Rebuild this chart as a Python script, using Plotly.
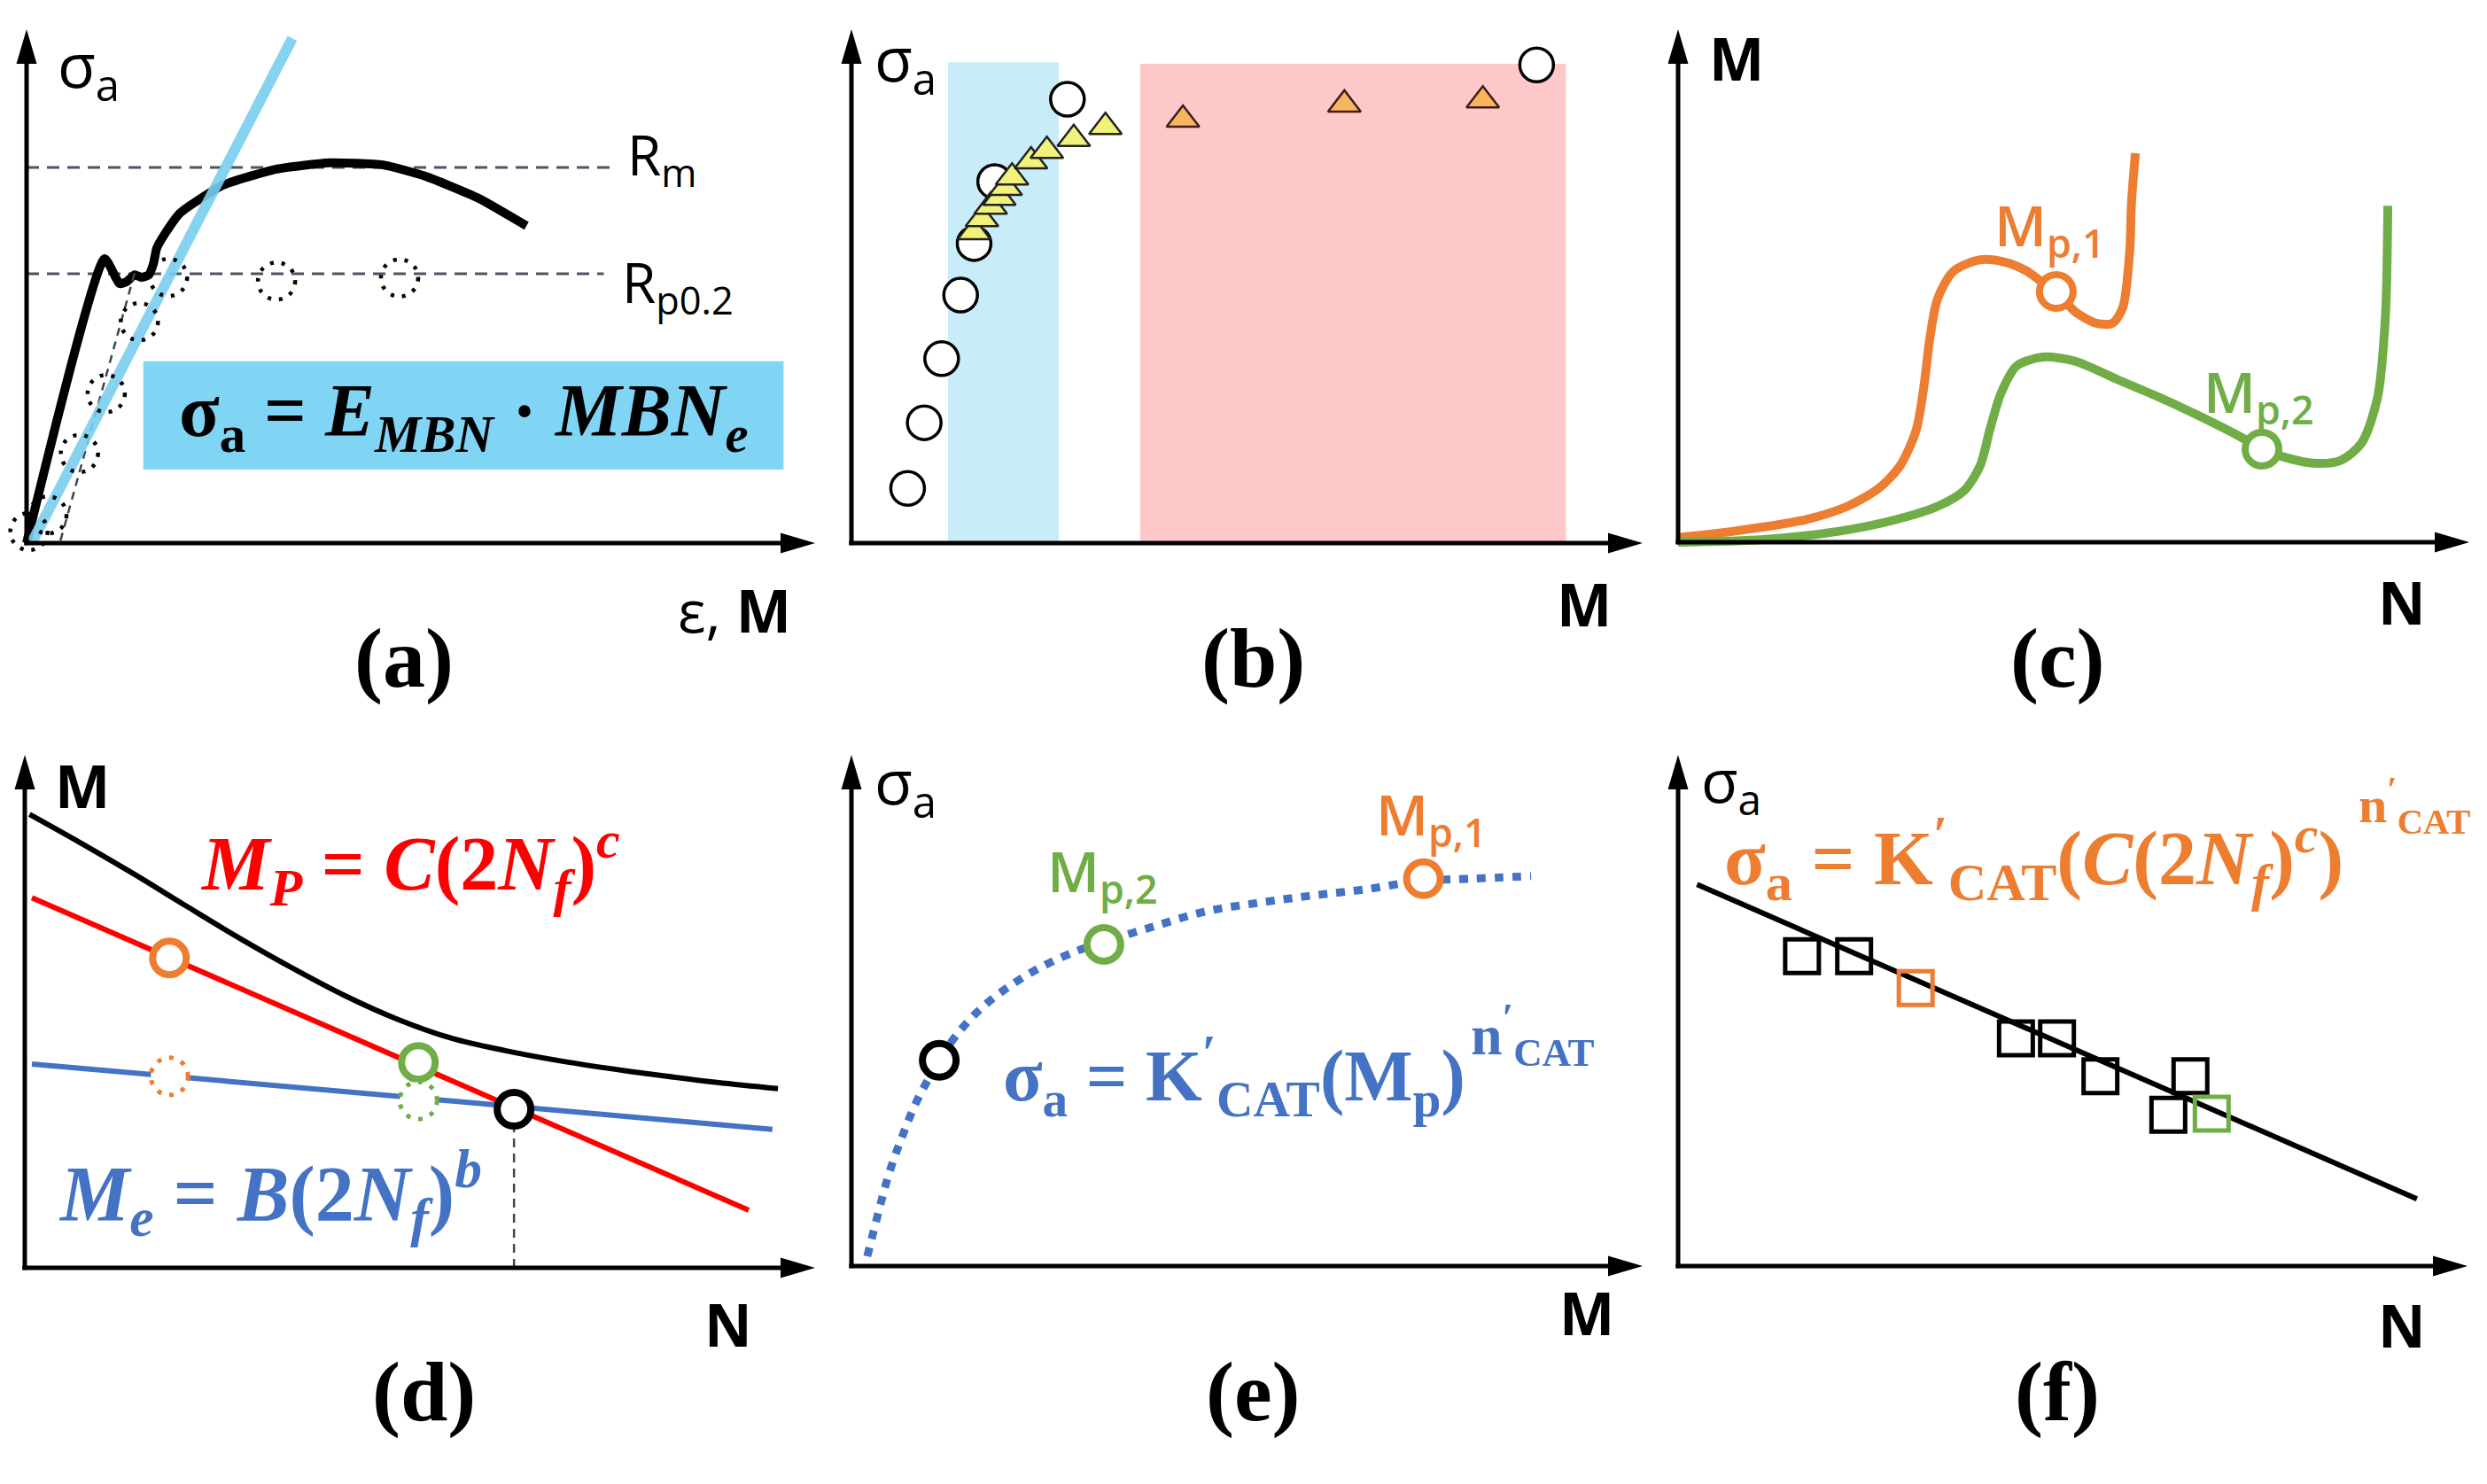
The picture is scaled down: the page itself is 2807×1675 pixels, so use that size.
import plotly.graph_objects as go

# ---------------- data (panel units: 0-100 along each arrow axis) ----------------
# (a) tensile curve, MBN fit, MBN points
a_curve_x = [0, 9.9, 11.8, 12.7, 13.7, 14.6, 15.5, 16.1, 16.5, 17.6, 19.5, 24.9, 31.7, 38.4, 45.2, 50.6, 57.3, 63.4]
a_curve_y = [0, 54.6, 49.8, 50.2, 51.5, 51.0, 51.5, 53.7, 56.6, 59.5, 63.4, 68.7, 71.8, 73.0, 72.6, 70.4, 66.2, 60.9]
a_fit_x = [0.7, 33.7]
a_fit_y = [0.2, 96.9]
a_offset_x = [4.3, 13.8]
a_offset_y = [0.5, 52.4]
a_mbn_x = [0.3, 2.7, 6.7, 10.1, 14.3, 18.0, 31.7, 47.3]
a_mbn_y = [2.2, 5.4, 17.2, 28.7, 42.5, 51.0, 50.3, 50.9]
a_Rm, a_Rm_end = 72.1, 74.2
a_Rp, a_Rp_end = 51.7, 73.2
a_box = [14.8, 96.0, 14.1, 34.9]

# (b)
b_circ_x = [7.1, 9.2, 11.4, 13.8, 15.5, 18.1, 27.3, 86.6]
b_circ_y = [10.5, 23.1, 35.4, 47.6, 57.5, 69.4, 85.2, 91.8]
b_tri_x = [15.5, 16.5, 17.6, 18.7, 19.5, 20.3, 22.7, 24.7, 28.1, 32.1]
b_tri_y = [59.7, 62.2, 64.6, 66.3, 68.2, 70.2, 73.3, 75.3, 77.6, 79.9]
b_otri_x = [41.9, 62.3, 79.8]
b_otri_y = [81.3, 84.2, 85.0]
b_blue_band = [12.2, 26.2, 92.3]
b_red_band = [36.5, 90.3, 92.0]

# (c)
c_or_x = [0, 7.4, 16.0, 21.4, 25.4, 28.1, 30.1, 31.1, 31.8, 32.8, 34.8, 38.2, 41.4, 44.1, 46.1, 47.8, 50.2, 52.9, 54.9, 56.2, 57.1, 57.3, 57.8]
c_or_y = [0.9, 2.2, 4.3, 6.9, 10.4, 14.8, 21.6, 30.3, 39.0, 46.8, 52.1, 54.3, 53.8, 52.1, 49.9, 48.2, 44.3, 42.1, 42.1, 45.1, 56.4, 65.1, 74.8]
c_gr_x = [0, 10.8, 20.7, 27.4, 32.8, 36.2, 38.2, 39.4, 40.8, 42.8, 46.1, 50.2, 55.5, 60.9, 66.9, 70.9, 73.8, 76.3, 80.3, 83.7, 86.4, 88.4, 89.4, 89.7]
c_gr_y = [0, 0.5, 2.2, 4.3, 6.9, 10.0, 14.8, 21.6, 28.6, 33.9, 35.6, 34.8, 31.3, 27.8, 23.5, 20.4, 17.9, 16.5, 15.2, 15.7, 19.1, 27.8, 43.4, 64.7]
c_mp1 = (47.8, 48.2)
c_mp2 = (73.8, 17.9)

# (d)
d_tot_x = [0.6, 7.0, 13.7, 20.4, 27.1, 33.9, 40.6, 47.3, 54.0, 60.8, 67.4, 74.1, 80.8, 87.6, 95.3]
d_tot_y = [88.1, 82.6, 76.6, 70.3, 64.1, 58.2, 52.8, 48.2, 44.6, 42.2, 40.3, 38.7, 37.3, 36.0, 34.8]
d_pl_x = [0.9, 91.6]
d_pl_y = [71.9, 11.2]
d_el_x = [0.9, 94.6]
d_el_y = [39.6, 26.9]
d_pts_x = [18.3, 49.8, 61.9]
d_pts_y = [60.2, 39.9, 30.8]
d_dot_x = [18.3, 49.8]
d_dot_y = [37.2, 32.5]

# (e)
e_x = [2.0, 3.4, 4.7, 6.4, 8.4, 10.8, 13.1, 16.5, 20.5, 24.5, 28.6, 31.9, 38.0, 44.7, 51.4, 58.1, 64.8, 72.1, 78.2, 85.9]
e_y = [1.9, 10.4, 17.8, 25.2, 32.6, 39.2, 44.7, 50.4, 55.1, 58.7, 61.5, 63.2, 66.1, 69.1, 70.8, 72.2, 73.4, 75.1, 75.5, 76.0]
e_pts_x = [11.1, 31.9, 72.3]
e_pts_y = [40.1, 62.7, 75.5]

# (f)
f_line_x = [2.4, 93.6]
f_line_y = [74.4, 13.1]
f_sq_x = [15.7, 22.3, 30.1, 42.8, 48.0, 53.5, 64.9, 62.1, 67.6]
f_sq_y = [60.4, 60.4, 54.2, 44.4, 44.4, 37.0, 37.0, 29.5, 29.7]
f_sq_kind = ["k", "k", "o", "k", "k", "k", "k", "k", "g"]

# ---------------- styling / layout ----------------
W, H = 2807, 1675
ORANGE, GREEN, BLUE, RED = "#ed7d31", "#70ad47", "#4472c4", "#ff0000"
SANS, SERIF = "Open Sans", "Liberation Serif"

# pixel geometry of each panel: origin x, arrow tip x, origin y, arrow tip y, px per y-unit
geom = {
    1: (30, 920, 613, 33, 5.88),
    2: (961, 1854, 613, 33, 5.88),
    3: (1894, 2787, 612, 33, 5.87),
    4: (28, 920, 1431, 852, 5.81),
    5: (961, 1854, 1429, 852, 5.79),
    6: (1894, 2785, 1429, 852, 5.79),
}
LO, HI = -2.5, 102.0

fig = go.Figure()
layout_axes = {}
shapes = []
annotations = []

for i, (x0, xt, y0, yt, sy) in geom.items():
    sx = (xt - x0) / 100.0
    dx = [(x0 + LO * sx) / W, (x0 + HI * sx) / W]
    dy = [1 - (y0 - LO * sy) / H, 1 - (y0 - HI * sy) / H]
    sfx = "" if i == 1 else str(i)
    common = dict(visible=False, showgrid=False, zeroline=False, fixedrange=True)
    layout_axes["xaxis" + sfx] = dict(domain=dx, range=[LO, HI], anchor="y" + sfx, **common)
    layout_axes["yaxis" + sfx] = dict(domain=dy, range=[LO, HI], anchor="x" + sfx, **common)
    xr, yr = "x" + sfx, "y" + sfx
    tip_y = (y0 - yt) / sy
    shapes.append(dict(type="line", xref=xr, yref=yr, x0=-0.3, y0=0, x1=97, y1=0,
                       line=dict(color="black", width=5), layer="above"))
    shapes.append(dict(type="line", xref=xr, yref=yr, x0=0, y0=-0.4, x1=0, y1=tip_y - 4,
                       line=dict(color="black", width=5), layer="above"))
    shapes.append(dict(type="path", xref=xr, yref=yr, xsizemode="pixel", ysizemode="pixel",
                       xanchor=100, yanchor=0, path="M0,0 L-39,11.5 L-39,-11.5 Z",
                       fillcolor="black", line=dict(width=0), layer="above"))
    shapes.append(dict(type="path", xref=xr, yref=yr, xsizemode="pixel", ysizemode="pixel",
                       xanchor=0, yanchor=tip_y, path="M0,0 L-11.5,-39 L11.5,-39 Z",
                       fillcolor="black", line=dict(width=0), layer="above"))


def ann(panel, x, y, text, size, color="black", family=SANS, xanchor="left", yanchor="middle", weight=None):
    """Text placed in panel units, converted to paper space so it may sit outside the axis range."""
    x0, xt, y0, yt, sy = geom[panel]
    sx = (xt - x0) / 100.0
    f = dict(family=family, size=size, color=color)
    if weight:
        f["weight"] = weight
    annotations.append(dict(xref="paper", yref="paper", x=(x0 + x * sx) / W, y=1 - (y0 - y * sy) / H,
                            text=text, showarrow=False, xanchor=xanchor, yanchor=yanchor, font=f))


def dotted_circle(panel, x, y, r, color, width, dash, fill="rgba(0,0,0,0)"):
    ref = "" if panel == 1 else str(panel)
    shapes.append(dict(type="circle", xref="x" + ref, yref="y" + ref, xsizemode="pixel", ysizemode="pixel",
                       xanchor=x, yanchor=y, x0=-r, x1=r, y0=-r, y1=r,
                       line=dict(color=color, width=width, dash=dash), fillcolor=fill, layer="above"))


# ---------------- panel (a) ----------------
shapes.append(dict(type="rect", xref="x", yref="y", x0=a_box[0], x1=a_box[1], y0=a_box[2], y1=a_box[3],
                   fillcolor="#80d4f4", line=dict(width=0), layer="below"))
for lvl, end in [(a_Rm, a_Rm_end), (a_Rp, a_Rp_end)]:
    fig.add_trace(go.Scatter(x=[0, end], y=[lvl, lvl], mode="lines", xaxis="x", yaxis="y",
                             line=dict(color="#4b5565", width=3, dash="14px,9px"), hoverinfo="skip"))
fig.add_trace(go.Scatter(x=a_curve_x, y=a_curve_y, mode="lines", xaxis="x", yaxis="y",
                         line=dict(color="black", width=10, shape="spline", smoothing=0.5), hoverinfo="skip"))
fig.add_trace(go.Scatter(x=a_offset_x, y=a_offset_y, mode="lines", xaxis="x", yaxis="y",
                         line=dict(color="#3b4656", width=2.5, dash="9px,7px"), hoverinfo="skip"))
fig.add_trace(go.Scatter(x=a_fit_x, y=a_fit_y, mode="lines", xaxis="x", yaxis="y", opacity=0.9,
                         line=dict(color="#79cff0", width=12), hoverinfo="skip"))
for x, y in zip(a_mbn_x, a_mbn_y):
    dotted_circle(1, x, y, 21, "black", 4.5, "4px,9px")
ann(1, 3.7, 91.3, "σ<sub>a</sub>", 70)
ann(1, 76.0, 74.0, "R<sub>m</sub>", 62)
ann(1, 75.3, 49.5, "R<sub>p0.2</sub>", 62)
ann(1, 97.2, -12.8, "ε, <b>M</b>", 66, xanchor="right")
ann(1, 55.4, 24.3, "<b>σ<sub>a</sub> = <i>E<sub>MBN</sub></i> · <i>MBN<sub>e</sub></i></b>", 84,
    family=SERIF, xanchor="center")

# ---------------- panel (b) ----------------
shapes.append(dict(type="rect", xref="x2", yref="y2", x0=b_blue_band[0], x1=b_blue_band[1], y0=0, y1=b_blue_band[2],
                   fillcolor="#c8edf9", line=dict(width=0), layer="below"))
shapes.append(dict(type="rect", xref="x2", yref="y2", x0=b_red_band[0], x1=b_red_band[1], y0=0, y1=b_red_band[2],
                   fillcolor="#ffc8c8", line=dict(width=0), layer="below"))
fig.add_trace(go.Scatter(x=b_circ_x, y=b_circ_y, mode="markers", xaxis="x2", yaxis="y2", cliponaxis=False,
                         marker=dict(symbol="circle", size=38, color="white", line=dict(color="black", width=3.5)),
                         hoverinfo="skip"))
fig.add_trace(go.Scatter(x=b_tri_x, y=b_tri_y, mode="markers", xaxis="x2", yaxis="y2", cliponaxis=False,
                         marker=dict(symbol="triangle-up", size=32, color="#f0f27a", line=dict(color="#222222", width=2.5)),
                         hoverinfo="skip"))
fig.add_trace(go.Scatter(x=b_otri_x, y=b_otri_y, mode="markers", xaxis="x2", yaxis="y2", cliponaxis=False,
                         marker=dict(symbol="triangle-up", size=32, color="#f7b65c", line=dict(color="#3d1c1c", width=2.5)),
                         hoverinfo="skip"))
ann(2, 2.7, 92.5, "σ<sub>a</sub>", 70)
ann(2, 96.3, -11.6, "<b>M</b>", 66, xanchor="right")

# ---------------- panel (c) ----------------
fig.add_trace(go.Scatter(x=c_or_x, y=c_or_y, mode="lines", xaxis="x3", yaxis="y3",
                         line=dict(color=ORANGE, width=10, shape="spline", smoothing=0.8), hoverinfo="skip"))
fig.add_trace(go.Scatter(x=c_gr_x, y=c_gr_y, mode="lines", xaxis="x3", yaxis="y3",
                         line=dict(color=GREEN, width=10, shape="spline", smoothing=0.8), hoverinfo="skip"))
for (px, py), col in [(c_mp1, ORANGE), (c_mp2, GREEN)]:
    fig.add_trace(go.Scatter(x=[px], y=[py], mode="markers", xaxis="x3", yaxis="y3", cliponaxis=False,
                             marker=dict(symbol="circle", size=38, color="white", line=dict(color=col, width=8)),
                             hoverinfo="skip"))
ann(3, 3.7, 93.2, "<b>M</b>", 66)
ann(3, 94.7, -11.4, "<b>N</b>", 66, xanchor="right")
ann(3, 39.8, 60.5, "M<sub>p,1</sub>", 64, color=ORANGE, weight=600)
ann(3, 66.2, 28.4, "M<sub>p,2</sub>", 64, color=GREEN, weight=600)

# ---------------- panel (d) ----------------
fig.add_trace(go.Scatter(x=d_tot_x, y=d_tot_y, mode="lines", xaxis="x4", yaxis="y4",
                         line=dict(color="black", width=6, shape="spline", smoothing=1.0), hoverinfo="skip"))
fig.add_trace(go.Scatter(x=d_el_x, y=d_el_y, mode="lines", xaxis="x4", yaxis="y4",
                         line=dict(color=BLUE, width=6), hoverinfo="skip"))
fig.add_trace(go.Scatter(x=d_pl_x, y=d_pl_y, mode="lines", xaxis="x4", yaxis="y4",
                         line=dict(color=RED, width=6), hoverinfo="skip"))
fig.add_trace(go.Scatter(x=[d_pts_x[2], d_pts_x[2]], y=[0, d_pts_y[2]], mode="lines", xaxis="x4", yaxis="y4",
                         line=dict(color="#3b4656", width=2.5, dash="10px,7px"), hoverinfo="skip"))
for x, y, col in zip(d_dot_x, d_dot_y, [ORANGE, GREEN]):
    dotted_circle(4, x, y, 21, col, 5, "5px,9px", fill="white")
fig.add_trace(go.Scatter(x=d_pts_x, y=d_pts_y, mode="markers", xaxis="x4", yaxis="y4", cliponaxis=False,
                         marker=dict(symbol="circle", size=38, color="white",
                                     line=dict(color=[ORANGE, GREEN, "black"], width=8)),
                         hoverinfo="skip"))
ann(4, 3.6, 93.8, "<b>M</b>", 66)
ann(4, 92.3, -10.8, "<b>N</b>", 66, xanchor="right")
ann(4, 48.8, 78.5, "<b><i>M<sub>P</sub></i> = <i>C</i>(2<i>N<sub>f</sub></i>)<sup><i>c</i></sup></b>", 86,
    color=RED, family=SERIF, xanchor="center")
ann(4, 31.1, 14.5, "<b><i>M<sub>e</sub></i> = <i>B</i>(2<i>N<sub>f</sub></i>)<sup><i>b</i></sup></b>", 88,
    color=BLUE, family=SERIF, xanchor="center")

# ---------------- panel (e) ----------------
fig.add_trace(go.Scatter(x=e_x, y=e_y, mode="lines", xaxis="x5", yaxis="y5",
                         line=dict(color=BLUE, width=9, dash="10px,10px", shape="spline", smoothing=1.0),
                         hoverinfo="skip"))
fig.add_trace(go.Scatter(x=e_pts_x, y=e_pts_y, mode="markers", xaxis="x5", yaxis="y5", cliponaxis=False,
                         marker=dict(symbol="circle", size=38, color="white",
                                     line=dict(color=["black", GREEN, ORANGE], width=8)),
                         hoverinfo="skip"))
ann(5, 2.7, 94.0, "σ<sub>a</sub>", 70)
ann(5, 96.6, -9.0, "<b>M</b>", 66, xanchor="right")
ann(5, 24.5, 76.5, "M<sub>p,2</sub>", 64, color=GREEN, weight=600)
ann(5, 66.1, 87.6, "M<sub>p,1</sub>", 64, color=ORANGE, weight=600)
ann(5, 77.8, 37.0, "<b>σ<sub>a</sub> = K<sup>′</sup><sub>CAT</sub>(M<sub>p</sub>)</b>", 82,
    color=BLUE, family=SERIF, xanchor="right")
ann(5, 78.0, 45.0, "<b>n<sup>′</sup><sub>CAT</sub></b>", 64, color=BLUE, family=SERIF)

# ---------------- panel (f) ----------------
fig.add_trace(go.Scatter(x=f_line_x, y=f_line_y, mode="lines", xaxis="x6", yaxis="y6",
                         line=dict(color="black", width=6), hoverinfo="skip"))
sq_col = {"k": "black", "o": ORANGE, "g": GREEN}
fig.add_trace(go.Scatter(x=f_sq_x, y=f_sq_y, mode="markers", xaxis="x6", yaxis="y6", cliponaxis=False,
                         marker=dict(symbol="square-open", size=38, color=[sq_col[k] for k in f_sq_kind],
                                     line=dict(width=5)),
                         hoverinfo="skip"))
ann(6, 2.7, 94.3, "σ<sub>a</sub>", 68)
ann(6, 94.9, -11.4, "<b>N</b>", 66, xanchor="right")
ann(6, 84.5, 79.6,
    "<b>σ<sub>a</sub> = K<sup>′</sup><sub>CAT</sub>(<i>C</i>(2<i>N<sub>f</sub></i>)<sup><i>c</i></sup>)</b>", 86,
    color=ORANGE, family=SERIF, xanchor="right")
ann(6, 86.0, 89.8, "<b>n<sup>′</sup><sub>CAT</sub></b>", 58, color=ORANGE, family=SERIF)

# ---------------- panel letters ----------------
panel_letters = ["(a)", "(b)", "(c)", "(d)", "(e)", "(f)"]
letter_pos = [(456, 742), (1414, 742), (2322, 742), (478, 1570), (1414, 1570), (2322, 1570)]
for t, (px, py) in zip(panel_letters, letter_pos):
    annotations.append(dict(xref="paper", yref="paper", x=px / W, y=1 - py / H, text="<b>" + t + "</b>",
                            showarrow=False, xanchor="center", yanchor="middle",
                            font=dict(family=SERIF, size=96, color="black")))

fig.update_layout(width=W, height=H, margin=dict(l=0, r=0, t=0, b=0),
                  paper_bgcolor="white", plot_bgcolor="rgba(0,0,0,0)", showlegend=False,
                  shapes=shapes, annotations=annotations, **layout_axes)

fig.write_html("out.html", include_plotlyjs=True, config={"displayModeBar": False},
               post_script="document.body.style.margin='0';document.body.style.overflow='hidden';")
